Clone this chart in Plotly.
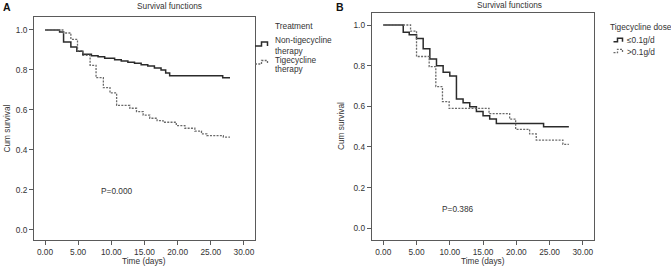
import plotly.graph_objects as go

W, H = 671, 266

# Panel A: treatment groups
a_non_t = [0, 2.2, 2.8, 3.9, 4.8, 5.7, 7.0, 8.0, 9.0, 10.5, 11.5, 12.5, 13.5, 14.5, 15.5, 16.5, 17.5, 18.2, 18.8, 26.8, 27.9]
a_non_s = [1.0, 0.99, 0.94, 0.915, 0.893, 0.878, 0.871, 0.866, 0.858, 0.851, 0.845, 0.838, 0.833, 0.826, 0.82, 0.81, 0.80, 0.785, 0.771, 0.761, 0.761]
a_tig_t = [0, 2.8, 3.9, 4.9, 5.7, 6.8, 7.7, 8.8, 9.8, 10.8, 12.8, 13.8, 14.8, 15.8, 16.9, 17.8, 19.8, 21.1, 22.6, 23.6, 24.4, 26.9, 27.9]
a_tig_s = [1.0, 0.985, 0.953, 0.896, 0.873, 0.823, 0.761, 0.711, 0.685, 0.622, 0.608, 0.591, 0.574, 0.558, 0.546, 0.538, 0.521, 0.508, 0.494, 0.48, 0.471, 0.464, 0.464]

# Panel B: tigecycline dose
b_low_t = [0, 3.0, 3.9, 5.0, 6.0, 7.0, 8.0, 9.0, 10.0, 11.0, 12.0, 13.0, 14.0, 15.0, 16.0, 17.0, 24.1, 27.9]
b_low_s = [1.0, 0.964, 0.952, 0.933, 0.883, 0.833, 0.80, 0.767, 0.749, 0.636, 0.618, 0.598, 0.574, 0.554, 0.538, 0.516, 0.50, 0.50]
b_high_t = [0, 4.1, 5.0, 6.9, 7.9, 8.9, 9.9, 15.9, 19.0, 19.9, 22.0, 23.0, 27.0, 27.9]
b_high_s = [1.0, 0.97, 0.845, 0.795, 0.697, 0.623, 0.59, 0.564, 0.537, 0.487, 0.464, 0.434, 0.413, 0.413]

x_ticks = [0, 5, 10, 15, 20, 25, 30]
y_ticks = [0, 0.2, 0.4, 0.6, 0.8, 1.0]

FONT = "Liberation Sans, Arial, sans-serif"
TXT = "#333333"
FS = 8.3

def px(x):
    return x / W

def py(y):
    return 1 - y / H

solid = dict(color="#2b2b2b", width=1.5, shape="hv")
dotted = dict(color="#6a6a6a", width=1.3, shape="hv", dash="2px,1.3px")

fig = go.Figure()
fig.add_trace(go.Scatter(x=a_non_t, y=a_non_s, mode="lines", line=solid, xaxis="x", yaxis="y", showlegend=False))
fig.add_trace(go.Scatter(x=a_tig_t, y=a_tig_s, mode="lines", line=dotted, xaxis="x", yaxis="y", showlegend=False))
fig.add_trace(go.Scatter(x=b_low_t, y=b_low_s, mode="lines", line=solid, xaxis="x2", yaxis="y2", showlegend=False))
fig.add_trace(go.Scatter(x=b_high_t, y=b_high_s, mode="lines", line=dotted, xaxis="x2", yaxis="y2", showlegend=False))

ax_common = dict(
    showline=True, mirror=True, linecolor="#5a5a5a", linewidth=1,
    ticks="outside", ticklen=4, tickcolor="#5a5a5a", tickwidth=1,
    showgrid=False, zeroline=False, automargin=False,
    tickfont=dict(family=FONT, size=FS, color=TXT),
)

fig.update_layout(
    width=W, height=H,
    margin=dict(l=0, r=0, t=0, b=0),
    paper_bgcolor="white", plot_bgcolor="white",
    font=dict(family=FONT, size=FS, color=TXT),
    xaxis=dict(domain=[px(34), px(255)], range=[-1.66, 31.67], tickvals=x_ticks, tickformat=".2f", anchor="y", **ax_common),
    yaxis=dict(domain=[py(240), py(17)], range=[-0.0516, 1.065], tickvals=y_ticks, tickformat=".1f", anchor="x", **ax_common),
    xaxis2=dict(domain=[px(371.7), px(594)], range=[-1.74, 31.68], tickvals=x_ticks, tickformat=".2f", anchor="y2", **ax_common),
    yaxis2=dict(domain=[py(239.7), py(13)], range=[-0.056, 1.059], tickvals=y_ticks, tickformat=".1f", anchor="x2", **ax_common),
)

def note(text, x, y, xanchor="center", size=FS, bold=False, angle=0, xref="paper", yref="paper"):
    if xref == "paper":
        x = px(x)
    if yref == "paper":
        y = py(y)
    fig.add_annotation(
        text=f"<b>{text}</b>" if bold else text, x=x, y=y, xref=xref, yref=yref,
        xanchor=xanchor, yanchor="middle", showarrow=False, textangle=angle,
        font=dict(family=FONT, size=size, color="#111111" if bold else TXT),
    )

# Panel letters and titles
note("A", 1, 6.5, xanchor="left", size=10.5, bold=True)
note("B", 334, 6.5, xanchor="left", size=10.5, bold=True)
note("Survival functions", 169, 6)
note("Survival functions", 509, 5.5)

# Axis titles
note("Time (days)", 144, 261)
note("Time (days)", 482.5, 261)
note("Cum survival", 7, 128.5, angle=-90)
note("Cum survival", 341, 126, angle=-90)

# P-values (data coordinates)
note("P=0.000", 10.9, 0.194, xref="x", yref="y")
note("P=0.386", 11.2, 0.095, xref="x2", yref="y2")

# Legend A
note("Treatment", 273, 26, xanchor="left")
note("Non-tigecycline", 273, 40, xanchor="left")
note("therapy", 273, 50.5, xanchor="left")
note("Tigecycline", 273, 59.5, xanchor="left")
note("therapy", 273, 69.5, xanchor="left")

# Legend B
note("Tigecycline dose", 608, 26.5, xanchor="left")
note("\u22640.1g/d", 624.5, 40, xanchor="left")
note(">0.1g/d", 624.5, 51.5, xanchor="left")

def step_icon(x0, x1, x2, ylo, yhi, line):
    path = (f"M {px(x0)} {py(ylo)} L {px(x1)} {py(ylo)} L {px(x1)} {py(yhi)} "
            f"L {px(x2)} {py(yhi)} L {px(x2)} {py(ylo)}")
    ln = dict(color=line["color"], width=line["width"])
    if "dash" in line:
        ln["dash"] = line["dash"]
    fig.add_shape(type="path", path=path, xref="paper", yref="paper", line=ln)

step_icon(255, 261.5, 267.5, 46, 42, solid)
step_icon(255, 261.5, 267.5, 64, 60.5, dotted)
step_icon(613.5, 617.5, 622.5, 41.7, 38.3, solid)
step_icon(613.5, 617.5, 622.5, 52.7, 49.3, dotted)

fig.write_html(
    "out.html",
    config={"displayModeBar": False},
    post_script="document.body.style.margin='0';document.body.style.overflow='hidden';",
)
